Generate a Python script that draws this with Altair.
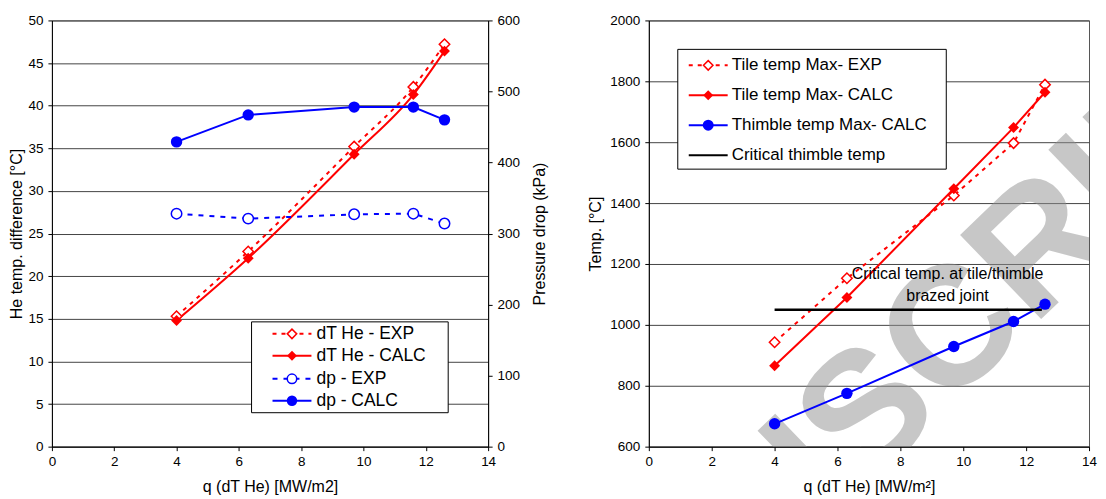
import altair as alt
import pandas as pd

# ---------------- data ----------------
q_vals = [4.0, 6.3, 9.7, 11.6, 12.6]
dT_exp = [15.3, 22.9, 35.2, 42.2, 47.2]
dT_calc = [14.8, 22.1, 34.3, 41.3, 46.4]
dp_exp = [328, 321, 327, 328, 314]
dp_calc = [429, 467, 478, 478, 460]

tile_exp = [943, 1153, 1425, 1597, 1789]
tile_calc = [866, 1090, 1447, 1648, 1764]
thimble_calc = [675, 775, 929, 1011, 1068]
crit_q = [4.0, 12.5]
crit_temp = [1050, 1050]

anno_lines = ["Critical temp. at tile/thimble", "brazed joint"]
anno_q = [9.5, 9.5]
anno_temp = [1166, 1095]

watermark_text = ["MANUSCRIPT"]
watermark_q = [7.0]
watermark_temp = [705]

x_ticks = [0, 2, 4, 6, 8, 10, 12, 14]
dT_ticks = [0, 5, 10, 15, 20, 25, 30, 35, 40, 45, 50]
dp_ticks = [0, 100, 200, 300, 400, 500, 600]
temp_ticks = [600, 800, 1000, 1200, 1400, 1600, 1800, 2000]

left_legend = ["dT He - EXP", "dT He - CALC", "dp - EXP", "dp - CALC"]
right_legend = ["Tile temp Max- EXP", "Tile temp Max- CALC",
                "Thimble temp Max- CALC", "Critical thimble temp"]

# ---------------- style ----------------
FONT = "Liberation Sans"
RED, BLUE, BLACK = "#ff0000", "#0000ff", "#000000"
RED_DASH = [4, 5]
BLUE_DASH = [5, 6]
W_LEFT, W_RIGHT, H = 437, 441, 427


def frame(xs, ys):
    return pd.DataFrame({"q": xs, "v": ys})


def line(d, x, y, color, dash=None, interp="linear", width=2):
    kw = dict(color=color, strokeWidth=width, interpolate=interp)
    if dash:
        kw["strokeDash"] = dash
    return alt.Chart(d).mark_line(**kw).encode(x=x, y=y)


def pts(d, x, y, color, shape, filled, size):
    if filled:
        m = alt.Chart(d).mark_point(shape=shape, filled=True, color=color,
                                    size=size, opacity=1)
    else:
        m = alt.Chart(d).mark_point(shape=shape, filled=True, fill="white",
                                    stroke=color, strokeWidth=1.5, size=size,
                                    opacity=1)
    return m.encode(x=x, y=y)


ONE = alt.Data(values=[{"k": 1}])


def legend_layers(entries, box, x0, x1, tx, rows, fs):
    layers = [alt.Chart(ONE).mark_rect(fill="white", stroke="black", strokeWidth=1)
              .encode(x=alt.value(box[0]), x2=alt.value(box[1]),
                      y=alt.value(box[2]), y2=alt.value(box[3]))]
    for (label, color, dash, shape, filled, size), yy in zip(entries, rows):
        kw = dict(color=color, strokeWidth=2)
        if dash:
            kw["strokeDash"] = dash
        layers.append(alt.Chart(ONE).mark_rule(**kw).encode(
            x=alt.value(x0), x2=alt.value(x1), y=alt.value(yy)))
        if shape:
            if filled:
                pm = alt.Chart(ONE).mark_point(shape=shape, filled=True, color=color,
                                               size=size, opacity=1)
            else:
                pm = alt.Chart(ONE).mark_point(shape=shape, filled=True, fill="white",
                                               stroke=color, strokeWidth=1.5,
                                               size=size, opacity=1)
            layers.append(pm.encode(x=alt.value((x0 + x1) / 2), y=alt.value(yy)))
        layers.append(alt.Chart(ONE).mark_text(
            text=label, align="left", baseline="middle", fontSize=fs,
            font=FONT, color="black").encode(x=alt.value(tx), y=alt.value(yy)))
    return layers


# ---------------- left chart ----------------
xL = alt.X("q:Q", scale=alt.Scale(domain=[0, 14], nice=False),
           axis=alt.Axis(values=x_ticks, title="q (dT He) [MW/m2]", grid=False,
                         tickSize=4, labelPadding=4, titlePadding=10))
yL = alt.Y("v:Q", scale=alt.Scale(domain=[0, 50], nice=False),
           axis=alt.Axis(values=dT_ticks, title="He temp. difference [°C]",
                         grid=True, tickSize=4, labelPadding=5, titlePadding=3))
yR = alt.Y("v:Q", scale=alt.Scale(domain=[0, 600], nice=False),
           axis=alt.Axis(orient="right", values=dp_ticks, title="Pressure drop (kPa)",
                         grid=False, tickSize=4, labelPadding=5, titlePadding=12,
                         titleAngle=270, titleBaseline="top", format="d"))

d_dTe, d_dTc = frame(q_vals, dT_exp), frame(q_vals, dT_calc)
d_dpe, d_dpc = frame(q_vals, dp_exp), frame(q_vals, dp_calc)

dT_group = alt.layer(
    line(d_dTe, xL, yL, RED, RED_DASH, "monotone"),
    line(d_dTc, xL, yL, RED, None, "monotone"),
    pts(d_dTe, xL, yL, RED, "diamond", False, 110),
    pts(d_dTc, xL, yL, RED, "diamond", True, 120),
)
dp_group = alt.layer(
    line(d_dpe, xL, yR, BLUE, BLUE_DASH),
    line(d_dpc, xL, yR, BLUE, None),
    pts(d_dpe, xL, yR, BLUE, "circle", False, 110),
    pts(d_dpc, xL, yR, BLUE, "circle", True, 130),
)

left_entries = [
    (left_legend[0], RED, RED_DASH, "diamond", False, 90),
    (left_legend[1], RED, None, "diamond", True, 100),
    (left_legend[2], BLUE, BLUE_DASH, "circle", False, 90),
    (left_legend[3], BLUE, None, "circle", True, 110),
]
left_leg = legend_layers(left_entries, (200, 397, 302, 393), 221, 260, 265,
                         [314, 336, 359, 381], 17.5)

left = alt.layer(dT_group, dp_group, *left_leg).resolve_scale(
    y="independent").properties(width=W_LEFT, height=H)

# ---------------- right chart ----------------
xR = alt.X("q:Q", scale=alt.Scale(domain=[0, 14], nice=False),
           axis=alt.Axis(values=x_ticks, title="q (dT He) [MW/m²]", grid=False,
                         tickSize=4, labelPadding=4, titlePadding=10))
yT = alt.Y("v:Q", scale=alt.Scale(domain=[600, 2000], nice=False),
           axis=alt.Axis(values=temp_ticks, title="Temp. [°C]", grid=True,
                         tickSize=4, labelPadding=5, titlePadding=6, format="d"))

d_wm = pd.DataFrame({"q": watermark_q, "v": watermark_temp, "t": watermark_text})
wm = alt.Chart(d_wm).mark_text(
    font=FONT, fontWeight="bold", fontSize=170, angle=316, color="#909090",
    opacity=0.5, clip=True, align="center", baseline="middle"
).encode(x=xR, y=yT, text="t:N")

d_te, d_tc = frame(q_vals, tile_exp), frame(q_vals, tile_calc)
d_th = frame(q_vals, thimble_calc)
d_crit = frame(crit_q, crit_temp)
d_anno = pd.DataFrame({"q": anno_q, "v": anno_temp, "t": anno_lines})

anno = alt.Chart(d_anno).mark_text(
    font=FONT, fontSize=16, color="black", align="center", baseline="middle"
).encode(x=xR, y=yT, text="t:N")

right_entries = [
    (right_legend[0], RED, RED_DASH, "diamond", False, 90),
    (right_legend[1], RED, None, "diamond", True, 100),
    (right_legend[2], BLUE, None, "circle", True, 120),
    (right_legend[3], BLACK, None, None, True, 0),
]
right_leg = legend_layers(right_entries, (29, 298, 29, 149), 40, 79, 83,
                          [45, 75, 105, 135], 17)

right = alt.layer(
    wm,
    line(d_te, xR, yT, RED, RED_DASH),
    line(d_tc, xR, yT, RED, None),
    line(d_th, xR, yT, BLUE, None),
    line(d_crit, xR, yT, BLACK, None, width=2.5),
    pts(d_te, xR, yT, RED, "diamond", False, 110),
    pts(d_tc, xR, yT, RED, "diamond", True, 120),
    pts(d_th, xR, yT, BLUE, "circle", True, 130),
    anno,
    *right_leg,
).properties(width=W_RIGHT, height=H)

chart = alt.hconcat(left, right, spacing=38).properties(
    padding={"left": 0, "top": 4, "right": 0, "bottom": 0}
).configure_axis(
    labelFont=FONT, titleFont=FONT, labelFontSize=13.5, titleFontSize=16,
    titleFontWeight="normal", labelColor="black", titleColor="black",
    domainColor="black", tickColor="black", gridColor="#444", gridWidth=1,
    labelFlush=False, labelOverlap=False
).configure_view(stroke="#555", strokeWidth=1)

chart.save("out.html", embed_options={"renderer": "svg", "actions": False})
